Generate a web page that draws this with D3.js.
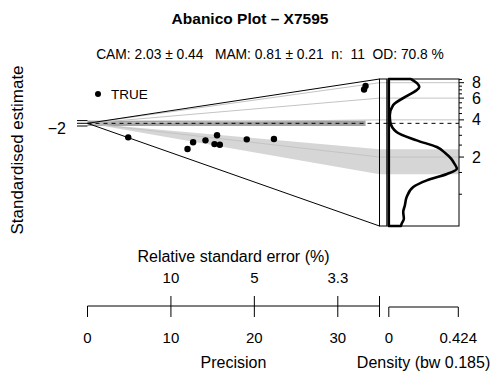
<!DOCTYPE html>
<html><head><meta charset="utf-8">
<script src="https://cdn.jsdelivr.net/npm/d3@7"></script>
<style>
body{margin:0;background:#fff}
svg{display:block}
text{font-family:"Liberation Sans",Arial,Helvetica,sans-serif;fill:#000}
</style>
</head><body>
<svg id="chart" width="493" height="376"></svg>
<script>
// ---- data ----
const precision = [4.88, 11.99, 12.66, 14.14, 15.53, 15.22, 15.86, 19.09, 22.35, 33.33, 33.15];
const deValues  = [0.576, 0.925, 1.41, 1.71, 2.27, 1.54, 1.55, 2.17, 2.37, 7.80, 7.30];
const centralValue = 3.75;
const zLimits = [0.553, 8.57];
const zMajorTicks = [2, 4, 6, 8];
const zMinorTicks = [1, 1.5, 2.5, 3, 3.5, 4.5, 5, 5.5, 6.5, 7, 7.5, 8.5];
const precisionTicks = [0, 10, 20, 30];
const precisionMax = 35;
const rseTicks = [10, 5, 3.333];
const rseLabels = ["10", "5", "3.3"];
const stdTicks = [-2, 0, 2];
const stdLabelShown = [-2];
const barRange = [1.45, 2.31];
const densityDe  = [8.57, 7.94, 7.38, 6.9, 6.32, 5.25, 4.35, 3.84, 3.19, 2.73, 2.41, 2.155, 1.94, 1.77, 1.61, 1.46, 1.295, 1.143, 0.948, 0.812, 0.717, 0.633, 0.576, 0.553];
const densityVal = [0.135, 0.172, 0.186, 0.166, 0.117, 0.026, 0.006, 0.009, 0.047, 0.170, 0.293, 0.344, 0.380, 0.400, 0.415, 0.355, 0.232, 0.149, 0.109, 0.098, 0.088, 0.092, 0.078, 0.074];
const densityMax = 0.424;
const titleText = "Abanico Plot \u2013 X7595";
const subtitleText = "CAM: 2.03 \u00b1 0.44   MAM: 0.81 \u00b1 0.21  n:  11  OD: 70.8 %";
const legendLabel = "TRUE";

// ---- scales ----
const svg = d3.select("#chart");
const xP = d3.scaleLinear().domain([0, precisionMax]).range([87.5, 379.5]);
const yZ = d3.scaleLog().domain(zLimits).range([226, 79]);
const ys = d3.scaleLinear().domain([-2, 2]).range([126, 120.6]);
const xD = d3.scaleLinear().domain([0, densityMax]).range([388.8, 458.3]);
const RIGHT = 459;
const ox = xP(0), oy = yZ(centralValue);
const pointY = (p, de) => oy + (yZ(de) - oy) * p / precisionMax;

// CAM bar (light band)
svg.append("path")
  .attr("d", `M${ox},${oy}L${xP(precisionMax)},${yZ(barRange[1])}L${RIGHT},${yZ(barRange[1])}L${RIGHT},${yZ(barRange[0])}L${xP(precisionMax)},${yZ(barRange[0])}Z`)
  .attr("fill", "#d6d6d6").attr("stroke", "none");

// +-2 band
svg.append("rect")
  .attr("x", xP(0)).attr("y", ys(2))
  .attr("width", xP(d3.max(precision)) - xP(0)).attr("height", ys(-2) - ys(2))
  .attr("fill", "#a3a3a3");

// z lines
svg.selectAll(".zline").data(zMajorTicks).join("path")
  .attr("d", v => `M${ox},${oy}L${xP(precisionMax)},${yZ(v)}L${RIGHT},${yZ(v)}`)
  .attr("fill", "none").attr("stroke", "#c4c4c4").attr("stroke-width", 1);

// polygon edges
svg.append("path")
  .attr("d", `M${xP(precisionMax)},${yZ(zLimits[1])}L${ox},${oy}L${xP(precisionMax)},${yZ(zLimits[0])}`)
  .attr("fill", "none").attr("stroke", "#000").attr("stroke-width", 1);

// central dashed line
svg.append("line")
  .attr("x1", ox).attr("x2", RIGHT).attr("y1", oy).attr("y2", oy)
  .attr("stroke", "#000").attr("stroke-width", 1).attr("stroke-dasharray", "4,4");

// points
svg.selectAll(".pt").data(precision.map((p, i) => [p, deValues[i]])).join("circle")
  .attr("cx", d => xP(d[0])).attr("cy", d => pointY(d[0], d[1])).attr("r", 3.2)
  .attr("fill", "#000");

// bar rect between polygon and density
svg.append("rect")
  .attr("x", xP(precisionMax)).attr("y", yZ(zLimits[1]))
  .attr("width", 386.8 - xP(precisionMax)).attr("height", yZ(zLimits[0]) - yZ(zLimits[1]))
  .attr("fill", "none").attr("stroke", "#000").attr("stroke-width", 1);

// density box
svg.append("rect")
  .attr("x", 388.2).attr("y", yZ(zLimits[1]))
  .attr("width", RIGHT - 388.2).attr("height", yZ(zLimits[0]) - yZ(zLimits[1]))
  .attr("fill", "none").attr("stroke", "#000").attr("stroke-width", 1);

// density curve
const dPts = densityDe.map((z, i) => [xD(densityVal[i]), yZ(z)]);
svg.append("path")
  .attr("d", d3.line().curve(d3.curveMonotoneY)(dPts) + `L${xD(0)},${yZ(densityDe[densityDe.length-1])}L${xD(0)},${yZ(densityDe[0])}Z`)
  .attr("fill", "none").attr("stroke", "#000").attr("stroke-width", 2.6).attr("stroke-linejoin", "round");

// right z axis ticks
svg.selectAll(".zmaj").data(zMajorTicks).join("line")
  .attr("x1", RIGHT).attr("x2", RIGHT + 5).attr("y1", v => yZ(v)).attr("y2", v => yZ(v))
  .attr("stroke", "#000");
svg.selectAll(".zmin").data(zMinorTicks).join("line")
  .attr("x1", RIGHT).attr("x2", RIGHT + 3).attr("y1", v => yZ(v)).attr("y2", v => yZ(v))
  .attr("stroke", "#000");
svg.selectAll(".zlab").data(zMajorTicks).join("text")
  .attr("x", 472).attr("y", v => yZ(v)).attr("dy", "0.35em")
  .attr("font-size", 16).text(v => v);

// left std ticks
svg.selectAll(".stick").data(stdTicks).join("line")
  .attr("x1", 77).attr("x2", xP(0)).attr("y1", v => ys(v)).attr("y2", v => ys(v))
  .attr("stroke", "#000");
svg.selectAll(".slab").data(stdLabelShown).join("text")
  .attr("x", 66).attr("y", v => ys(v) + 2.5).attr("dy", "0.35em").attr("text-anchor", "end")
  .attr("font-size", 16).text(v => v < 0 ? "\u2212" + Math.abs(v) : v);

// y title
svg.append("text").attr("transform", "translate(23,150) rotate(-90)")
  .attr("text-anchor", "middle").attr("font-size", 17).text("Standardised estimate");

// legend
svg.append("circle").attr("cx", 98).attr("cy", 94).attr("r", 3).attr("fill", "#000");
svg.append("text").attr("x", 111).attr("y", 94).attr("dy", "0.35em").attr("font-size", 13.5).text(legendLabel);

// title & subtitle
svg.append("text").attr("x", 250).attr("y", 24).attr("text-anchor", "middle")
  .attr("font-size", 15.5).attr("font-weight", "bold").text(titleText);
svg.append("text").attr("x", 270).attr("y", 59).attr("text-anchor", "middle")
  .attr("font-size", 13.8).style("white-space", "pre").text(subtitleText);

// precision axis
const axY = 306;
svg.append("line").attr("x1", xP(0)).attr("x2", xP(precisionMax)).attr("y1", axY).attr("y2", axY).attr("stroke", "#000");
svg.selectAll(".ptk").data([...precisionTicks, precisionMax]).join("line")
  .attr("x1", v => xP(v)).attr("x2", v => xP(v)).attr("y1", axY).attr("y2", axY + 11).attr("stroke", "#000");
svg.selectAll(".plab").data(precisionTicks).join("text")
  .attr("x", v => xP(v)).attr("y", 338).attr("dy", "0.35em").attr("text-anchor", "middle")
  .attr("font-size", 15).text(v => v);
svg.append("text").attr("x", (xP(0) + xP(precisionMax)) / 2).attr("y", 362).attr("dy", "0.35em")
  .attr("text-anchor", "middle").attr("font-size", 16).text("Precision");

// RSE axis
svg.selectAll(".rtk").data([...rseTicks, 100 / precisionMax]).join("line")
  .attr("x1", v => xP(100 / v)).attr("x2", v => xP(100 / v)).attr("y1", axY).attr("y2", axY - 10).attr("stroke", "#000");
svg.selectAll(".rlab").data(rseTicks).join("text")
  .attr("x", v => xP(100 / v)).attr("y", 278).attr("dy", "0.35em").attr("text-anchor", "middle")
  .attr("font-size", 15).text((v, i) => rseLabels[i]);
svg.append("text").attr("x", (xP(0) + xP(precisionMax)) / 2).attr("y", 256).attr("dy", "0.35em")
  .attr("text-anchor", "middle").attr("font-size", 16).text("Relative standard error (%)");

// density axis
const dY = 307;
svg.append("line").attr("x1", xD(0)).attr("x2", xD(densityMax)).attr("y1", dY).attr("y2", dY).attr("stroke", "#000");
svg.selectAll(".dtk").data([0, densityMax]).join("line")
  .attr("x1", v => xD(v)).attr("x2", v => xD(v)).attr("y1", dY).attr("y2", dY + 10).attr("stroke", "#000");
svg.selectAll(".dlab").data([0, densityMax]).join("text")
  .attr("x", v => xD(v)).attr("y", 338).attr("dy", "0.35em").attr("text-anchor", "middle")
  .attr("font-size", 15).text(v => v);
svg.append("text").attr("x", (xD(0) + xD(densityMax)) / 2).attr("y", 362).attr("dy", "0.35em")
  .attr("text-anchor", "middle").attr("font-size", 16).text("Density (bw 0.185)");
</script>
</body></html>
